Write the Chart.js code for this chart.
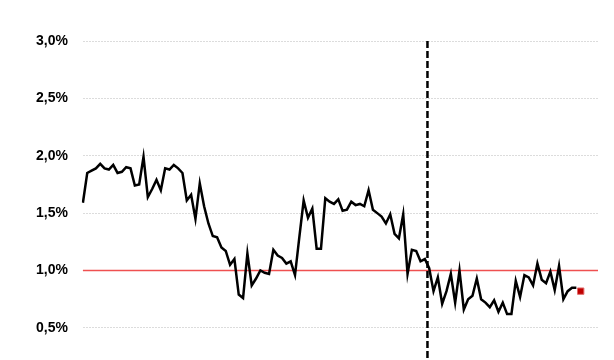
<!DOCTYPE html>
<html>
<head>
<meta charset="utf-8">
<script src="https://cdn.jsdelivr.net/npm/chart.js@4"></script>
<style>
  html,body{margin:0;padding:0;background:#fff;}
  #wrap{width:614px;height:360px;}
</style>
</head>
<body>
<div id="wrap"><canvas id="chart"></canvas></div>
<script>
/* DATA (percent) */
const values = [
  1.59,1.85,1.87,1.89,1.93,1.89,1.88,1.92,1.85,1.86,
  1.90,1.89,1.74,1.75,1.99,1.64,1.71,1.79,1.70,1.89,
  1.88,1.92,1.89,1.85,1.61,1.66,1.45,1.76,1.56,1.41,
  1.30,1.29,1.20,1.17,1.05,1.10,0.79,0.76,1.15,0.87,
  0.93,1.00,0.98,0.97,1.18,1.13,1.11,1.06,1.08,0.96,
  1.29,1.61,1.46,1.54,1.19,1.19,1.63,1.60,1.58,1.62,
  1.52,1.53,1.60,1.57,1.58,1.56,1.70,1.53,1.50,1.47,
  1.41,1.49,1.32,1.28,1.49,0.97,1.18,1.17,1.08,1.10,
  1.02,0.82,0.94,0.71,0.82,0.97,0.72,1.00,0.66,0.75,
  0.78,0.93,0.75,0.72,0.68,0.74,0.64,0.72,0.62,0.62,
  0.91,0.77,0.96,0.94,0.87,1.06,0.92,0.89,0.99,0.83,
  1.04,0.75,0.82,0.85,0.85
];
const latest = 0.82;       // red square, period after the line
const totalPeriods = 120;  // axis runs a few periods past the data
const periods = Array.from({length: totalPeriods}, (_, i) => String(i + 1));
const yTicks = [0.5, 1.0, 1.5, 2.0, 2.5, 3.0];
const threshold = 1.0;     // red reference line
const breakAt = 79.6;      // dashed vertical marker (axis position)

const lineData = values.slice();
const lastData = values.map(() => null).concat([latest]);

/* PLUGIN: reference line + dashed marker */
const refLines = {
  id: 'refLines',
  beforeDatasetsDraw(chart){
    const {ctx, chartArea:a, scales:{x, y}} = chart;
    ctx.save();
    const ty = y.getPixelForValue(threshold);
    ctx.strokeStyle = '#ef5050';
    ctx.lineWidth = 1.5;
    ctx.beginPath();
    ctx.moveTo(a.left, ty);
    ctx.lineTo(a.right, ty);
    ctx.stroke();

    const bx = x.getPixelForValue(breakAt);
    ctx.strokeStyle = '#000';
    ctx.lineWidth = 2.5;
    ctx.setLineDash([7,3]);
    ctx.beginPath();
    ctx.moveTo(bx, a.top);
    ctx.lineTo(bx, a.bottom);
    ctx.stroke();
    ctx.restore();
  }
};

new Chart(document.getElementById('chart'), {
  type: 'line',
  data: {
    labels: periods,
    datasets: [
      {
        data: lineData,
        borderColor: '#000',
        borderWidth: 2.5,
        pointRadius: 0,
        tension: 0
      },
      {
        data: lastData,
        showLine: false,
        pointStyle: 'rect',
        pointRadius: 4.5,
        backgroundColor: '#c00000',
        borderColor: '#e06a6a',
        borderWidth: 1
      }
    ]
  },
  options: {
    responsive: true,
    maintainAspectRatio: false,
    animation: false,
    layout: { autoPadding: false, padding: { top: 41, right: 16, bottom: 0, left: 21 } },
    plugins: { legend: { display: false }, tooltip: { enabled: false } },
    scales: {
      x: {
        display: false,
        offset: false
      },
      y: {
        min: 0.22,
        max: 3.0,
        afterBuildTicks: axis => { axis.ticks = yTicks.map(v => ({value: v})); },
        afterFit: axis => { axis.paddingBottom = 0; },
        border: { display: false, dash: [2,1] },
        grid: {
          color: '#dcdcdc',
          lineWidth: 1,
          drawTicks: false
        },
        ticks: {
          padding: 15,
          color: '#000',
          font: { family: '"Liberation Sans", Arial, sans-serif', size: 14, weight: 'bold' },
          callback: v => v.toFixed(1).replace('.', ',') + '%'
        }
      }
    }
  },
  plugins: [refLines]
});
</script>
</body>
</html>
